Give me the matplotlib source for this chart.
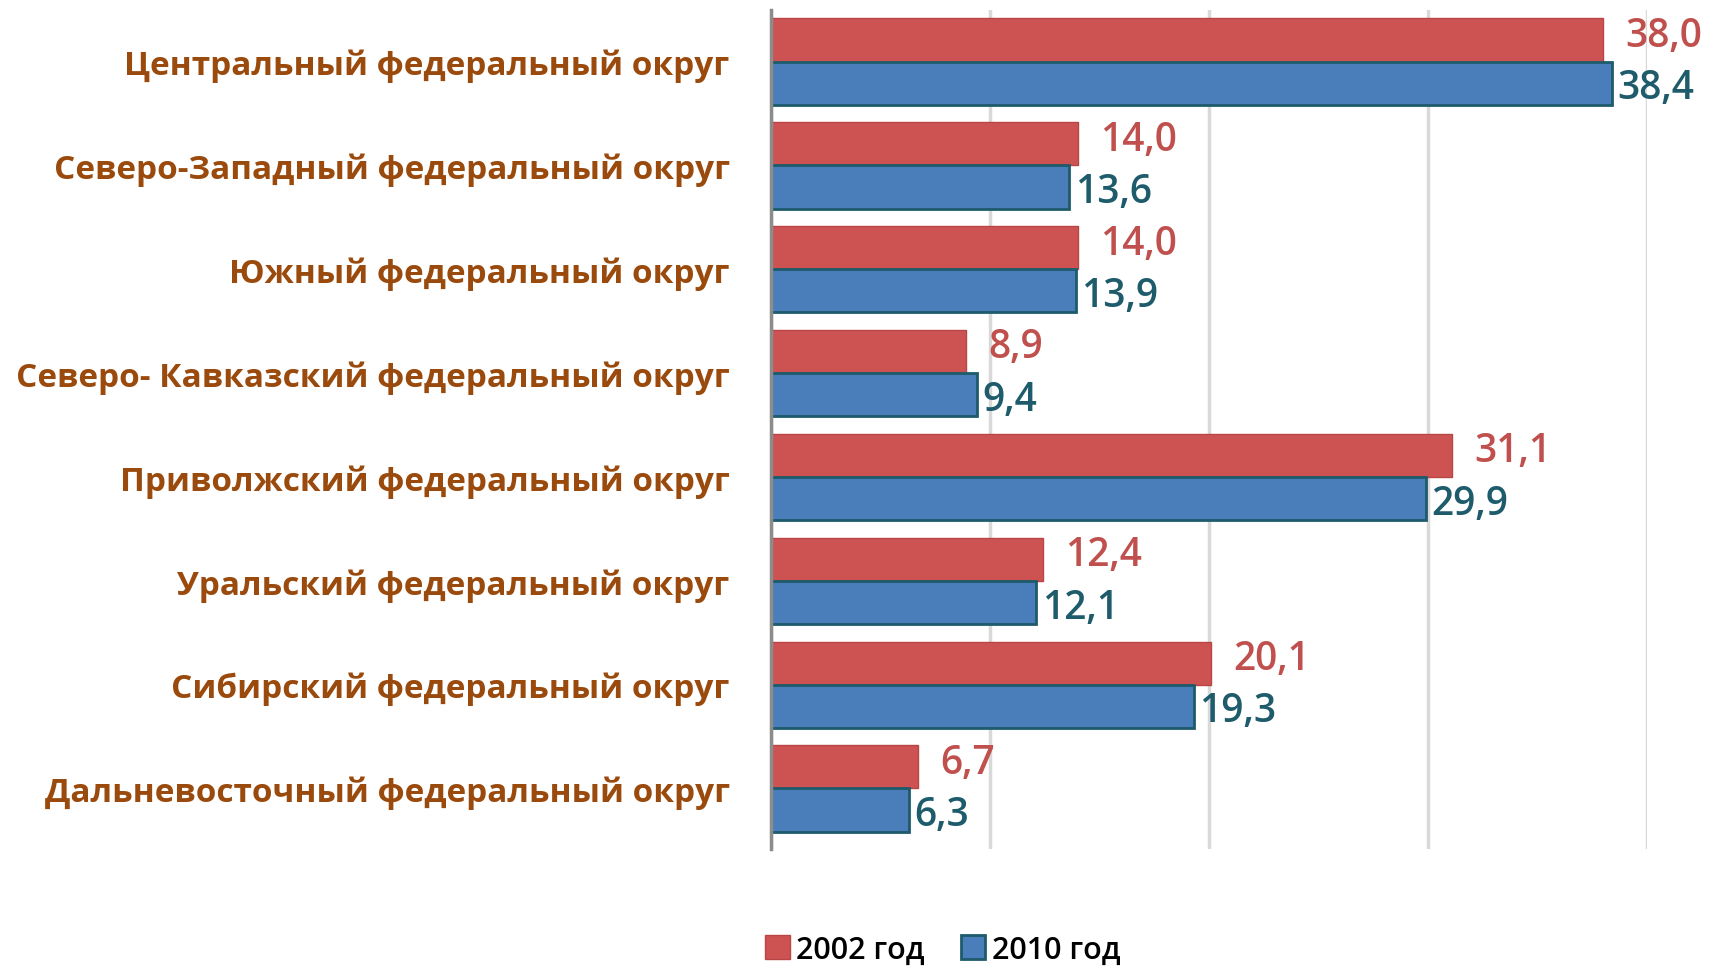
import matplotlib
matplotlib.use("Agg")
import matplotlib.pyplot as plt
from matplotlib import font_manager
import numpy as np

# data
regions = [
    "Центральный федеральный округ",
    "Северо-Западный федеральный округ",
    "Южный федеральный округ",
    "Северо- Кавказский федеральный округ",
    "Приволжский федеральный округ",
    "Уральский федеральный округ",
    "Сибирский федеральный округ",
    "Дальневосточный федеральный округ",
]
values_2002 = [38.0, 14.0, 14.0, 8.9, 31.1, 12.4, 20.1, 6.7]
values_2010 = [38.4, 13.6, 13.9, 9.4, 29.9, 12.1, 19.3, 6.3]
series_names = ["2002 год", "2010 год"]

# pick a narrow font if available (reference uses a condensed font)
names = {f.name for f in font_manager.fontManager.ttflist}
family = "Liberation Sans Narrow" if "Liberation Sans Narrow" in names else "Open Sans"
plt.rcParams["font.family"] = [family, "DejaVu Sans"]

red = "#CD5353"
blue = "#4A7EBB"
red_text = "#C0504D"
blue_text = "#1E5B6B"
label_brown = "#9A4A0C"

fig = plt.figure(figsize=(17.14, 9.70), dpi=100)
ax = fig.add_axes([0.450, 0.124, 0.511, 0.865])

y = np.arange(len(regions))
h = 0.415
ax.barh(y - h / 2, values_2002, height=h, color=red, edgecolor="#B84646",
        linewidth=1, label=series_names[0], zorder=3)
ax.barh(y + h / 2, values_2010, height=h, color=blue, edgecolor=blue_text,
        linewidth=2, label=series_names[1], zorder=3)

for yi, v in zip(y, values_2002):
    ax.text(v + 1.0, yi - h / 2 - 0.04, f"{v:.1f}".replace(".", ","), color=red_text,
            fontsize=28, va="center", ha="left", fontweight="semibold")
for yi, v in zip(y, values_2010):
    ax.text(v + 0.25, yi + h / 2 + 0.05, f"{v:.1f}".replace(".", ","), color=blue_text,
            fontsize=28, va="center", ha="left", fontweight="semibold")

ax.set_xlim(0, 40)
ax.set_ylim(len(regions) - 0.5 + 0.08, -0.5)
ax.set_xticks([0, 10, 20, 30, 40])
ax.set_xticklabels([])
ax.tick_params(axis="x", length=0)
ax.tick_params(axis="y", length=0, pad=30)
ax.set_yticks(y)
ax.set_yticklabels(regions, fontsize=24, fontweight="bold", color=label_brown)
ax.grid(axis="x", color="#D9D9D9", linewidth=2.5, zorder=0)
for s in ["top", "right", "bottom"]:
    ax.spines[s].set_visible(False)
ax.spines["left"].set_color("#8C8C8C")
ax.spines["left"].set_linewidth(2.5)
ax.spines["left"].set_zorder(4)

fig.legend(loc="center", bbox_to_anchor=(0.55, 0.02), ncol=2, frameon=False,
           fontsize=22, handlelength=0.8, handleheight=0.8, handletextpad=0.2,
           columnspacing=1.2, prop={"weight": "semibold", "size": 22})

fig.savefig("out.png", dpi=100, facecolor="white")
